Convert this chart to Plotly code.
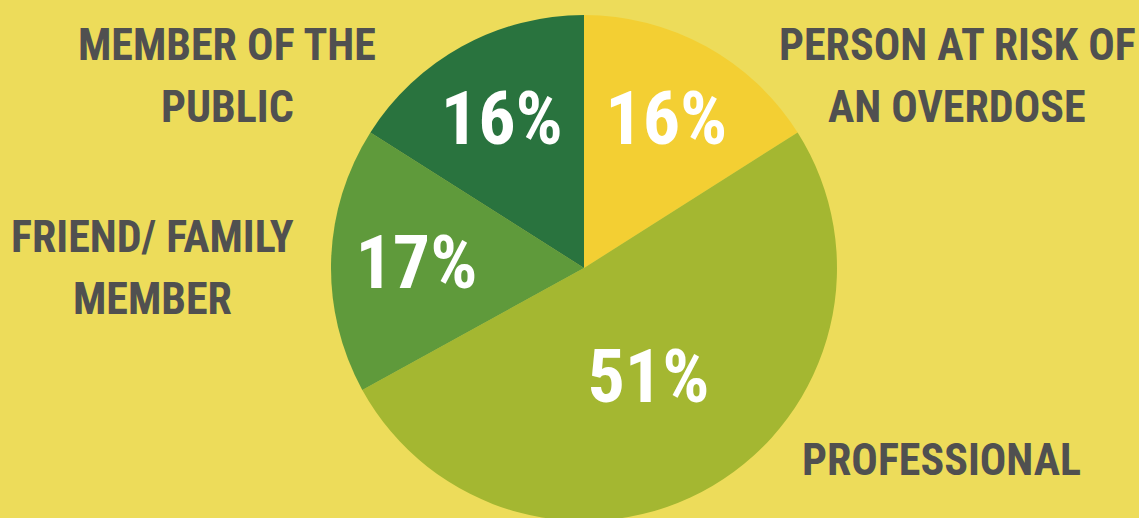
import plotly.graph_objects as go

# ---- data ----
categories = ["Person at risk of an overdose", "Professional", "Friend/ family member", "Member of the public"]
values = [16, 51, 17, 16]
pct_labels = ["16%", "51%", "17%", "16%"]
label_lines = [["PERSON AT RISK OF", "AN OVERDOSE"], ["PROFESSIONAL"],
               ["FRIEND/ FAMILY", "MEMBER"], ["MEMBER OF THE", "PUBLIC"]]

# ---- styling ----
colors = ["#F3CF33", "#A4B731", "#5F9A3B", "#29733E"]
W, H = 1139, 536
label_x = [957, 941, 152, 227]
label_y = [45, 460, 237, 45]
line_gap = 62
LABEL_FONT = "Roboto Condensed, DejaVu Sans Condensed, Liberation Sans Narrow, Roboto, sans-serif"

fig = go.Figure(go.Pie(
    labels=categories, values=values, text=pct_labels,
    textinfo="text", textposition="inside", insidetextorientation="horizontal",
    sort=False, direction="clockwise", rotation=0,
    marker=dict(colors=colors, line=dict(width=0)),
    insidetextfont=dict(color="white", size=74, family=LABEL_FONT, weight="bold"),
    domain=dict(x=[(584 - 253) / W, (584 + 253) / W], y=[0, 1]),
    hoverinfo="label+percent", showlegend=False,
))

annotations = []
for lines, lx, ly in zip(label_lines, label_x, label_y):
    for i, line in enumerate(lines):
        annotations.append(dict(
            text=line, x=lx / W, y=1 - (ly + i * line_gap) / H,
            xref="paper", yref="paper", xanchor="center", yanchor="middle",
            showarrow=False,
            font=dict(size=44, color="#505050", family=LABEL_FONT, weight="bold"),
        ))

fig.update_layout(
    width=W, height=H, margin=dict(l=0, r=0, t=0, b=0),
    paper_bgcolor="#EDDC5A", plot_bgcolor="#EDDC5A",
    annotations=annotations,
)

fig.write_html("out.html", config={"displayModeBar": False},
               post_script="document.body.style.margin='0';document.body.style.overflow='hidden';")
